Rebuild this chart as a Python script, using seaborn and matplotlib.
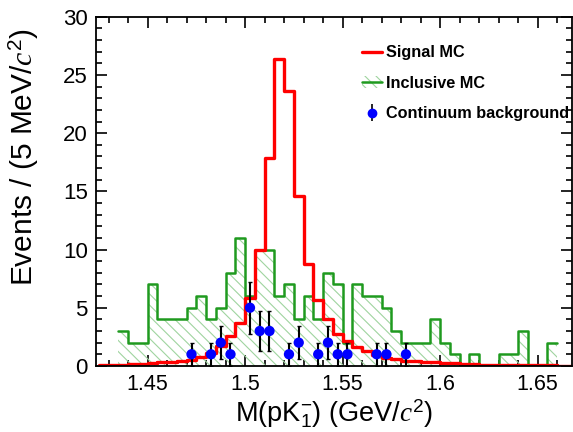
import numpy as np
import pandas as pd
import matplotlib
matplotlib.use("Agg")
import matplotlib.pyplot as plt
import seaborn as sns
from matplotlib.patches import Patch
from matplotlib.lines import Line2D
from matplotlib.ticker import MultipleLocator

# --------------------------
# DATA
# --------------------------
bin_width = 0.005

# Inclusive MC, bins starting at 1.435
incl_start = 1.435
incl_counts = [3, 2, 2, 7, 4, 4, 4, 5, 6, 4, 5, 8, 11, 6, 10, 10, 6, 7, 4, 6, 4,
               8, 7, 2, 7, 6, 6, 5, 3, 2, 2, 2, 4, 2, 1, 0, 1, 0, 0, 1, 1, 3, 0, 0, 2]

# Signal MC, bins starting at 1.425
sig_start = 1.425
sig_counts = [0.05, 0.08, 0.10, 0.15, 0.20, 0.25, 0.30, 0.35, 0.45, 0.55, 0.75, 1.1,
              1.75, 2.6, 3.7, 5.8, 10.0, 17.9, 26.4, 23.6, 14.6, 8.8, 5.7, 4.0, 2.7,
              2.1, 1.6, 1.25, 0.95, 0.72, 0.57, 0.46, 0.40, 0.35, 0.30, 0.26, 0.22,
              0.18, 0.15, 0.12, 0.10, 0.08, 0.07, 0.06, 0.05, 0.04, 0.04, 0.03, 0.03]

# Continuum background (bin centres, counts)
cont_x = [1.4725, 1.4825, 1.4875, 1.4925, 1.5025, 1.5075, 1.5125, 1.5225, 1.5275,
          1.5375, 1.5425, 1.5475, 1.5525, 1.5675, 1.5725, 1.5825]
cont_y = [1, 1, 2, 1, 5, 3, 3, 1, 2, 1, 2, 1, 1, 1, 1, 1]

x_min, x_max = 1.4235, 1.6676
y_min, y_max = 0, 30

# --------------------------
# STYLE
# --------------------------
sns.set_theme(style="ticks")
plt.rcParams["font.family"] = ["Liberation Sans", "DejaVu Sans"]
plt.rcParams["mathtext.fontset"] = "custom"
plt.rcParams["mathtext.rm"] = "Liberation Sans"
plt.rcParams["mathtext.it"] = "Liberation Serif:italic"
plt.rcParams["text.color"] = "black"
plt.rcParams["axes.labelcolor"] = "black"
plt.rcParams["hatch.color"] = "#9fd49f"
plt.rcParams["hatch.linewidth"] = 0.8

green_line = "#1f9a1f"
hatch_green = "#9fd49f"

incl_edges = list(incl_start + bin_width * np.arange(len(incl_counts) + 1))
sig_edges = list(sig_start + bin_width * np.arange(len(sig_counts) + 1))
incl_df = pd.DataFrame({"mass": np.array(incl_edges[:-1]) + bin_width / 2,
                        "n": incl_counts})
sig_df = pd.DataFrame({"mass": np.array(sig_edges[:-1]) + bin_width / 2,
                       "n": sig_counts})
cont_df = pd.DataFrame({"mass": cont_x, "n": cont_y})

fig, ax = plt.subplots(figsize=(5.73, 4.32), dpi=100)
fig.subplots_adjust(left=0.1675, right=0.998, bottom=0.153, top=0.961)

# Inclusive MC: hatched fill + outline
sns.histplot(data=incl_df, x="mass", weights="n", bins=incl_edges, element="step",
             fill=True, ax=ax, color=hatch_green)
fill = ax.collections[-1]
fill.set_facecolor("none")
fill.set_edgecolor(hatch_green)
fill.set_linewidth(0)
fill.set_hatch("\\\\\\")
sns.histplot(data=incl_df, x="mass", weights="n", bins=incl_edges, element="step",
             fill=False, ax=ax, color=green_line, linewidth=1.8)

# Signal MC
sns.histplot(data=sig_df, x="mass", weights="n", bins=sig_edges, element="step",
             fill=False, ax=ax, color="red", linewidth=2.4)

# Continuum background points
ax.errorbar(cont_df["mass"], cont_df["n"], yerr=np.sqrt(cont_df["n"]), fmt="none",
            ecolor="black", elinewidth=1.5, capsize=1.5, zorder=4)
sns.scatterplot(data=cont_df, x="mass", y="n", ax=ax, color="blue", s=55,
                edgecolor="none", zorder=5)

# --------------------------
# AXES
# --------------------------
ax.set_xlim(x_min, x_max)
ax.set_ylim(y_min, y_max)
ax.xaxis.set_major_locator(MultipleLocator(0.05))
ax.xaxis.set_minor_locator(MultipleLocator(0.01))
ax.yaxis.set_major_locator(MultipleLocator(5))
ax.yaxis.set_minor_locator(MultipleLocator(1))
ax.set_xticks([1.45, 1.5, 1.55, 1.6, 1.65])
ax.set_xticklabels(["1.45", "1.5", "1.55", "1.6", "1.65"])
ax.tick_params(which="both", direction="in", top=True, right=True, colors="black",
               labelcolor="black", width=1.2)
ax.tick_params(axis="x", labelsize=15.5)
ax.tick_params(axis="y", labelsize=16)
ax.tick_params(which="major", length=8, pad=6)
ax.tick_params(which="minor", length=4)
for s in ax.spines.values():
    s.set_linewidth(1.3)
    s.set_color("black")

ax.set_xlabel("M(pK$^{-}_{1}$) (GeV/$c^{2}$)", fontsize=19.5, labelpad=1)
ax.set_ylabel("Events / (5 MeV/$c^{2}$)", fontsize=21.5, loc="top")
ax.yaxis.set_label_coords(-0.115, 0.968)

# --------------------------
# LEGEND
# --------------------------
h_sig = Line2D([], [], color="red", linewidth=2.4)
h_incl = (Patch(facecolor="none", edgecolor=hatch_green, hatch="\\\\\\", linewidth=0),
          Line2D([], [], color=green_line, linewidth=1.8))
h_cont = ax.errorbar([], [], yerr=[], fmt="o", color="blue", ecolor="black",
                     markersize=6, elinewidth=1.2)
leg = ax.legend([h_sig, h_incl, h_cont],
                ["Signal MC", "Inclusive MC", "Continuum background"],
                loc="upper left", bbox_to_anchor=(0.546, 0.937), frameon=False,
                prop={"weight": "bold", "size": 11.7}, handlelength=1.2,
                labelspacing=0.95, handletextpad=0.25, borderaxespad=0)

fig.savefig("out.png", dpi=100)
